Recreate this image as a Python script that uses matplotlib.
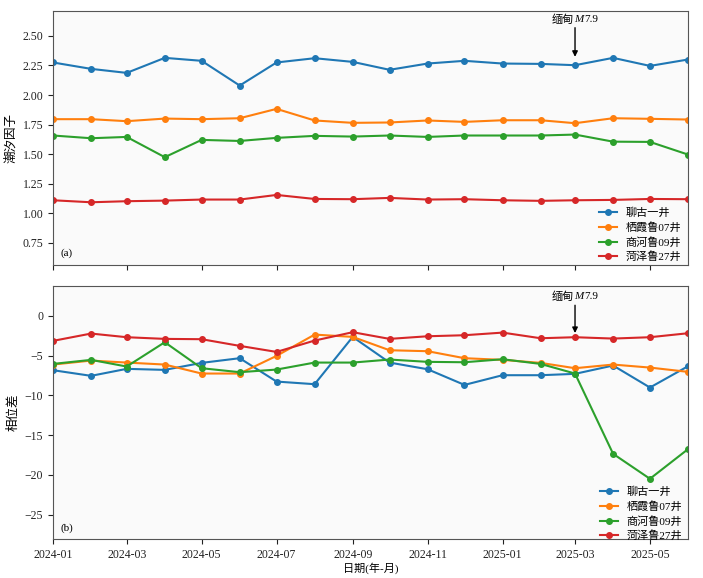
import matplotlib
matplotlib.use("Agg")
import matplotlib.pyplot as plt
import matplotlib.dates as mdates
import numpy as np
import pandas as pd

plt.rcParams['font.family'] = ['Liberation Serif', 'Noto Sans CJK SC', 'DejaVu Sans']
plt.rcParams['axes.unicode_minus'] = True

months = pd.date_range('2024-01-01', '2025-06-01', freq='MS')
wells = ['聊古一井', '栖霞鲁07井', '商河鲁09井', '菏泽鲁27井']

# tidal factor (a)
factor_liugu = [2.275, 2.221, 2.187, 2.314, 2.289, 2.080, 2.275, 2.311, 2.280,
                2.213, 2.266, 2.289, 2.266, 2.263, 2.252, 2.314, 2.246, 2.300]
factor_qixia = [1.796, 1.796, 1.779, 1.801, 1.796, 1.804, 1.883, 1.785, 1.765,
                1.768, 1.785, 1.773, 1.787, 1.787, 1.762, 1.804, 1.799, 1.793]
factor_shanghe = [1.658, 1.635, 1.646, 1.475, 1.621, 1.612, 1.638, 1.655, 1.649,
                  1.658, 1.646, 1.658, 1.658, 1.658, 1.666, 1.606, 1.604, 1.497]
factor_heze = [1.111, 1.094, 1.103, 1.108, 1.117, 1.117, 1.156, 1.122, 1.120,
               1.131, 1.117, 1.120, 1.111, 1.106, 1.111, 1.114, 1.122, 1.120]

# phase difference (b)
phase_liugu = [-6.83, -7.54, -6.66, -6.79, -5.91, -5.32, -8.26, -8.59, -2.64,
               -5.87, -6.71, -8.68, -7.46, -7.46, -7.29, -6.24, -9.01, -6.33]
phase_qixia = [-6.12, -5.62, -5.87, -6.12, -7.25, -7.25, -5.03, -2.35, -2.64,
               -4.32, -4.44, -5.32, -5.53, -5.91, -6.58, -6.12, -6.50, -7.04]
phase_shanghe = [-6.04, -5.53, -6.37, -3.31, -6.58, -7.08, -6.75, -5.87, -5.87,
                 -5.49, -5.78, -5.83, -5.45, -6.04, -7.25, -17.35, -20.49, -16.76]
phase_heze = [-3.14, -2.22, -2.68, -2.89, -2.93, -3.77, -4.53, -3.10, -2.05,
              -2.89, -2.56, -2.43, -2.10, -2.81, -2.68, -2.85, -2.68, -2.18]

quake_date = pd.Timestamp('2025-03-01')
# label pieces: place name, magnitude symbol (italic), magnitude value
quake_parts = ['缅甸', 'M', '7.9']

fig = plt.figure(figsize=(7.03, 5.78), dpi=100)
ax1 = fig.add_axes([0.0754, 0.5415, 0.9033, 0.4395])
ax2 = fig.add_axes([0.0754, 0.0670, 0.9033, 0.4387], sharex=ax1)

factor_series = [factor_liugu, factor_qixia, factor_shanghe, factor_heze]
phase_series = [phase_liugu, phase_qixia, phase_shanghe, phase_heze]

for ax, series in [(ax1, factor_series), (ax2, phase_series)]:
    ax.set_facecolor('#fafafa')
    for name, vals in zip(wells, series):
        ax.plot(months, vals, marker='o', markersize=4, linewidth=1.5, label=name)
    for sp in ax.spines.values():
        sp.set_color('#555555')
    ax.tick_params(labelsize=8.5, colors='#222222')

ax1.legend(loc='lower right', bbox_to_anchor=(1.0, -0.015), frameon=False,
           fontsize=8, handlelength=1.6, labelspacing=0.35, borderaxespad=0.2)
ax2.legend(loc='lower right', bbox_to_anchor=(1.0, -0.03), frameon=False,
           fontsize=8, handlelength=1.6, labelspacing=0.35, borderaxespad=0.1)

ax1.set_ylim(0.564, 2.71)
ax1.set_yticks(np.arange(0.75, 2.51, 0.25))
ax1.yaxis.set_major_formatter(plt.FormatStrFormatter('%.2f'))
ax2.set_ylim(-28.1, 3.8)
ax2.set_yticks([0, -5, -10, -15, -20, -25])

ax2.set_xlim(months[0], months[-1])
ax2.xaxis.set_major_locator(mdates.MonthLocator(bymonth=[1, 3, 5, 7, 9, 11]))
ax2.xaxis.set_major_formatter(mdates.DateFormatter('%Y-%m'))
plt.setp(ax1.get_xticklabels(), visible=False)

ax1.set_ylabel('潮汐因子', fontsize=9)
ax2.set_ylabel('相位差', fontsize=9)
ax2.set_xlabel('日期(年-月)', fontsize=8, labelpad=1)

ax1.text(0.012, 0.035, '(a)', transform=ax1.transAxes, fontsize=8)
ax2.text(0.012, 0.035, '(b)', transform=ax2.transAxes, fontsize=8)

qi = list(months).index(quake_date)


def mark_quake(ax, yval, rise, gap):
    arrow = dict(arrowstyle='-|>', color='black', lw=1, mutation_scale=8,
                 shrinkA=0, shrinkB=gap)
    ax.annotate('', xy=(quake_date, yval), xytext=(0, rise - 6),
                textcoords='offset points', arrowprops=arrow)
    ax.annotate(quake_parts[0], xy=(quake_date, yval), xytext=(-0.5, rise),
                textcoords='offset points', ha='right', va='center', fontsize=8)
    ax.annotate(quake_parts[1], xy=(quake_date, yval), xytext=(-0.5, rise),
                textcoords='offset points', ha='left', va='center', fontsize=8,
                style='italic')
    ax.annotate(quake_parts[2], xy=(quake_date, yval), xytext=(6.3, rise),
                textcoords='offset points', ha='left', va='center', fontsize=8)


mark_quake(ax1, factor_liugu[qi], 33, 6)
mark_quake(ax2, phase_heze[qi], 29, 3)

fig.savefig('out.png', dpi=100)
